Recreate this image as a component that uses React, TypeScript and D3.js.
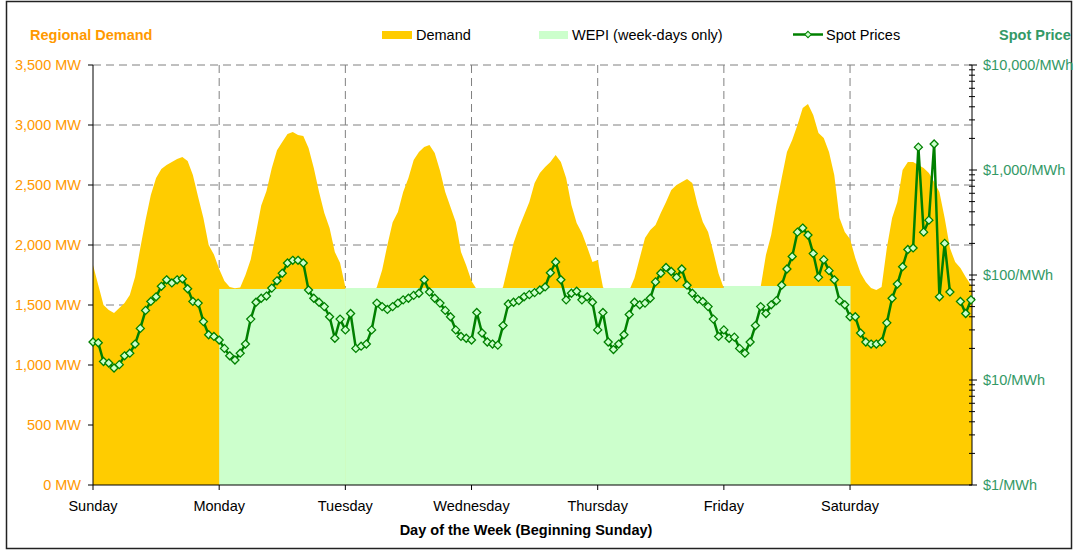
import * as d3 from "d3";

const days = ["Sunday", "Monday", "Tuesday", "Wednesday", "Thursday", "Friday", "Saturday"];

// hourly regional demand (MW), Sunday 00:00 .. next Sunday 00:00
const demand = [
  // Sunday
  1833, 1667, 1500, 1458, 1433, 1475, 1517, 1583, 1733, 1975, 2208, 2417, 2558, 2633, 2667, 2692, 2717, 2733, 2700, 2583, 2400, 2225, 2000, 1920,
  // Monday
  1800, 1700, 1650, 1640, 1645, 1750, 1880, 2100, 2330, 2450, 2640, 2790, 2858, 2925, 2942, 2917, 2908, 2808, 2642, 2442, 2267, 2142, 1942, 1850,
  // Tuesday
  1650, 1580, 1550, 1530, 1540, 1580, 1650, 1792, 2000, 2190, 2275, 2442, 2558, 2708, 2775, 2817, 2833, 2767, 2620, 2442, 2317, 2192, 1942, 1830,
  // Wednesday
  1700, 1630, 1580, 1560, 1560, 1580, 1650, 1833, 2017, 2142, 2250, 2358, 2517, 2600, 2650, 2692, 2750, 2692, 2558, 2333, 2183, 2100, 1983, 1858,
  // Thursday
  1875, 1650, 1580, 1560, 1560, 1580, 1620, 1725, 1892, 2058, 2125, 2167, 2267, 2358, 2458, 2500, 2525, 2550, 2517, 2333, 2192, 2108, 1942, 1760,
  // Friday
  1640, 1600, 1570, 1560, 1560, 1580, 1620, 1650, 1917, 2083, 2333, 2558, 2775, 2875, 3000, 3142, 3175, 3083, 2933, 2892, 2775, 2583, 2225, 2108,
  // Saturday
  2050, 1892, 1767, 1692, 1642, 1625, 1650, 1975, 2225, 2358, 2625, 2692, 2692, 2667, 2642, 2600, 2525, 2442, 2225, 1975, 1858, 1808, 1733, 1667,
  1650,
];

// hourly spot prices ($/MWh), null = no value
const spot: (number | null)[] = [
  // Sunday
  23, 22.6, 15, 14.5, 13, 14, 17, 18, 22, 31, 46, 56, 62, 78, 90, 84, 90, 92, 74, 56, 54, 36, 27, 26,
  // Monday
  24, 20, 17, 15.5, 18, 22, 38, 55, 60, 63, 75, 88, 104, 130, 138, 138, 130, 72, 60, 55, 50, 40, 25, 38,
  // Tuesday
  30, 43, 20, 21, 22, 30, 54, 50, 47, 50, 54, 58, 60, 64, 67, 90, 69, 60, 54, 46, 40, 30, 26, 25,
  // Wednesday
  24, 44, 28, 23, 22, 21.5, 33, 53, 55, 57, 62, 65, 68, 72, 77, 105, 133, 90, 58, 67, 70, 58, 62, 55,
  // Thursday
  30, 44, 23, 19.5, 22, 27, 42, 55, 52, 54, 60, 86, 104, 118, 108, 95, 114, 80, 67, 59, 56, 50, 38, 26,
  // Friday
  30, 25, 25.6, 20, 18, 23, 33, 50, 43, 52, 57, 80, 114, 150, 256, 280, 240, 160, 95, 140, 110, 90, 57, 52,
  // Saturday
  40, 40, 28, 23, 22, 22, 23, 35, 60, 82, 120, 175, 181, 1650, 256, 333, 1770, 62, 200, 69, null, 56, 43, 58,
  null,
];

// WEPI daily level ($/MWh), Monday..Friday
const wepi = [73.6, 75.2, 75.2, 75.2, 78.6];

const demandTicks = [0, 500, 1000, 1500, 2000, 2500, 3000, 3500];
const priceTicks = [1, 10, 100, 1000, 10000];

const FONT = "'Liberation Sans', Arial, sans-serif";
const ORANGE = "#FF9900";
const SEA = "#339966";
const GOLD = "#FFCC00";
const PALE = "#CCFFCC";
const LINE = "#008000";

const diamond = "M0,-4L4,0L0,4L-4,0Z";

export default function App() {
  const left = 93, right = 972, top = 65, bottom = 485;
  // the axis stops a little short of the end of the week
  const x = d3.scaleLinear().domain([0, 167.2]).range([left, right]);
  const yD = d3.scaleLinear().domain([0, 3500]).range([bottom, top]);
  const yP = d3.scaleLog().domain([1, 10000]).range([bottom, top]);

  const area = d3
    .area<number>()
    .x((_, i) => x(i))
    .y0(bottom)
    .y1((d) => yD(d));

  const line = d3
    .line<number | null>()
    .defined((d) => d != null)
    .x((_, i) => x(i))
    .y((d) => yP(d as number));

  const minor: number[] = [];
  for (let e = 0; e < 4; e++) for (let m = 2; m <= 9; m++) minor.push(m * Math.pow(10, e));

  const fmt = d3.format(",");
  const weekEnd = x.domain()[1];

  return (
    <svg
      width={1074}
      height={551}
      style={{ position: "absolute", left: 0, top: 0, background: "#fff" }}
      fontFamily={FONT}
    >
      <defs>
        <clipPath id="plot">
          <rect x={left} y={top - 10} width={right - left} height={bottom - top + 10} />
        </clipPath>
      </defs>
      <rect x={6.5} y={1.5} width={1065} height={547} fill="#fff" stroke="#222" strokeWidth={1.5} />

      {/* grid */}
      {demandTicks.slice(1).map((v) => (
        <line key={"h" + v} x1={left} x2={right} y1={yD(v)} y2={yD(v)} stroke="#808080" strokeDasharray="8,5" />
      ))}
      {days.slice(1).map((d, i) => (
        <line key={"v" + d} x1={x((i + 1) * 24)} x2={x((i + 1) * 24)} y1={top} y2={bottom} stroke="#808080" strokeDasharray="8,5" />
      ))}

      {/* demand */}
      <path d={area(demand) as string} fill={GOLD} clipPath="url(#plot)" />

      {/* WEPI */}
      {wepi.map((v, i) => (
        <rect
          key={"w" + i}
          x={x((i + 1) * 24)}
          width={x(Math.min((i + 2) * 24, weekEnd)) - x((i + 1) * 24) + 0.5}
          y={yP(v)}
          height={bottom - yP(v)}
          fill={PALE}
        />
      ))}

      {/* axes */}
      <line x1={left} x2={left} y1={top} y2={bottom} stroke="#000" />
      <line x1={right} x2={right} y1={top} y2={bottom} stroke="#000" />
      <line x1={left} x2={right} y1={bottom} y2={bottom} stroke="#000" />
      {demandTicks.map((v) => (
        <g key={"l" + v}>
          <line x1={left - 5} x2={left} y1={yD(v)} y2={yD(v)} stroke="#000" />
          <text x={81} y={yD(v)} dy="0.35em" textAnchor="end" fontSize={14.5} fill={ORANGE}>
            {fmt(v)} MW
          </text>
        </g>
      ))}
      {minor.map((v) => (
        <line key={"m" + v} x1={right - 3} x2={right + 3} y1={yP(v)} y2={yP(v)} stroke="#000" />
      ))}
      {priceTicks.map((v) => (
        <g key={"r" + v}>
          <line x1={right - 3} x2={right + 5} y1={yP(v)} y2={yP(v)} stroke="#000" />
          <text x={983} y={yP(v)} dy="0.35em" fontSize={14.5} fill={SEA}>
            ${fmt(v)}/MWh
          </text>
        </g>
      ))}
      {days.map((d, i) => (
        <g key={d}>
          <line x1={x(i * 24)} x2={x(i * 24)} y1={bottom} y2={bottom + 5} stroke="#000" />
          <text x={x(i * 24)} y={511} textAnchor="middle" fontSize={14.5} fill="#000">
            {d}
          </text>
        </g>
      ))}
      <text x={526} y={535} textAnchor="middle" fontSize={14.5} fontWeight="bold" fill="#000">
        Day of the Week (Beginning Sunday)
      </text>

      {/* spot prices */}
      <path d={line(spot) as string} fill="none" stroke={LINE} strokeWidth={2.5} strokeLinejoin="round" clipPath="url(#plot)" />
      {spot.map((v, i) =>
        v == null ? null : (
          <path key={"p" + i} d={diamond} transform={`translate(${x(i)},${yP(v)})`} fill={PALE} stroke={LINE} strokeWidth={1.3} />
        )
      )}

      {/* titles & legend */}
      <text x={30} y={40} fontSize={14.5} fontWeight="bold" fill={ORANGE}>
        Regional Demand
      </text>
      <text x={999} y={40} fontSize={14.5} fontWeight="bold" fill={SEA}>
        Spot Price
      </text>
      <rect x={382} y={31} width={30} height={8} fill={GOLD} />
      <text x={416} y={40} fontSize={14.5} fill="#000">
        Demand
      </text>
      <rect x={539} y={31} width={29} height={8} fill={PALE} />
      <text x={572} y={40} fontSize={14.5} fill="#000">
        WEPI (week-days only)
      </text>
      <line x1={793} x2={823} y1={34.5} y2={34.5} stroke={LINE} strokeWidth={2.5} />
      <path d={diamond} transform="translate(808,34.5) scale(0.8)" fill={PALE} stroke={LINE} strokeWidth={1.3} />
      <text x={826} y={40} fontSize={14.5} fill="#000">
        Spot Prices
      </text>
    </svg>
  );
}
